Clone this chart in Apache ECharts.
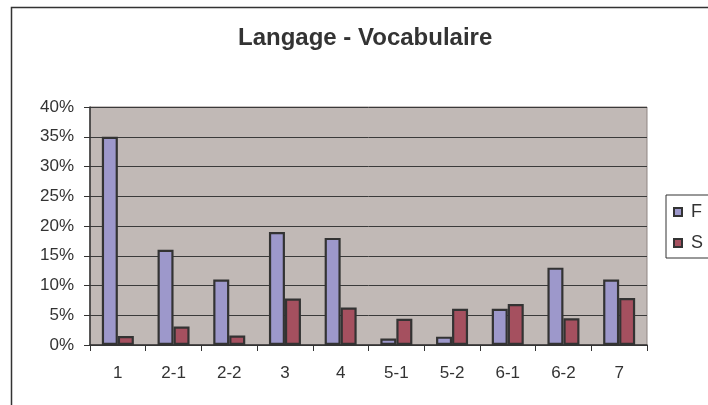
<!DOCTYPE html>
<html>
<head>
<meta charset="utf-8">
<script src="https://cdn.jsdelivr.net/npm/echarts@6/dist/echarts.min.js"></script>
<style>html,body{margin:0;padding:0;background:#fff;}#c{width:708px;height:405px;}</style>
</head>
<body>
<div id="c"></div>
<script>
var categories = ['1', '2-1', '2-2', '3', '4', '5-1', '5-2', '6-1', '6-2', '7'];
var valuesF = [0.35, 0.16, 0.11, 0.19, 0.18, 0.011, 0.014, 0.061, 0.13, 0.11];
var valuesS = [0.015, 0.031, 0.016, 0.078, 0.063, 0.044, 0.061, 0.069, 0.045, 0.079];
var yTicks = { min: 0, max: 0.4, interval: 0.05 };

var FONT = '"Liberation Sans", Arial, sans-serif';
var chart = echarts.init(document.getElementById('c'), null, { renderer: 'canvas' });
chart.setOption({
  animation: false,
  backgroundColor: '#ffffff',
  title: {
    text: 'Langage - Vocabulaire',
    left: 238, top: 26, padding: 0,
    textStyle: { fontFamily: FONT, fontSize: 24, fontWeight: 'bold', color: '#333' }
  },
  graphic: [{
    type: 'rect', silent: true, z: -1,
    shape: { x: 11.5, y: 7.5, width: 720, height: 420 },
    style: { fill: 'none', stroke: '#333', lineWidth: 1.5 }
  }],
  legend: {
    orient: 'vertical', left: 666, top: 195,
    padding: [8, 40, 6, 7], itemGap: 13,
    itemWidth: 8, itemHeight: 8, icon: 'rect',
    borderColor: '#333', borderWidth: 1,
    textStyle: { fontFamily: FONT, fontSize: 18, color: '#333', padding: [0, 0, 0, 4] },
    data: ['F', 'S']
  },
  grid: {
    left: 90, right: 61, top: 107, bottom: 60,
    show: true, backgroundColor: '#c1b9b6', borderColor: '#8f8583', borderWidth: 1
  },
  xAxis: {
    type: 'category', data: categories,
    axisLine: { lineStyle: { color: '#333', width: 1.5 } },
    axisTick: { show: true, length: 6, lineStyle: { color: '#333' } },
    axisLabel: { fontFamily: FONT, fontSize: 17, color: '#333', margin: 20 }
  },
  yAxis: {
    type: 'value', min: yTicks.min, max: yTicks.max, interval: yTicks.interval,
    axisLine: { show: true, lineStyle: { color: '#333', width: 1.5 } },
    axisTick: { show: true, length: 6, lineStyle: { color: '#333' } },
    axisLabel: {
      fontFamily: FONT, fontSize: 17, color: '#333', margin: 16,
      formatter: function (v) { return Math.round(v * 100) + '%'; }
    },
    splitLine: { lineStyle: { color: '#3a3a3a', width: 1 } }
  },
  series: [
    { name: 'F', type: 'bar', data: valuesF, barWidth: 16, barGap: '0%',
      itemStyle: { color: '#9d98cb', borderColor: '#333', borderWidth: 2.2 } },
    { name: 'S', type: 'bar', data: valuesS, barWidth: 16,
      itemStyle: { color: '#a5505f', borderColor: '#333', borderWidth: 2.2 } }
  ]
});
</script>
</body>
</html>
